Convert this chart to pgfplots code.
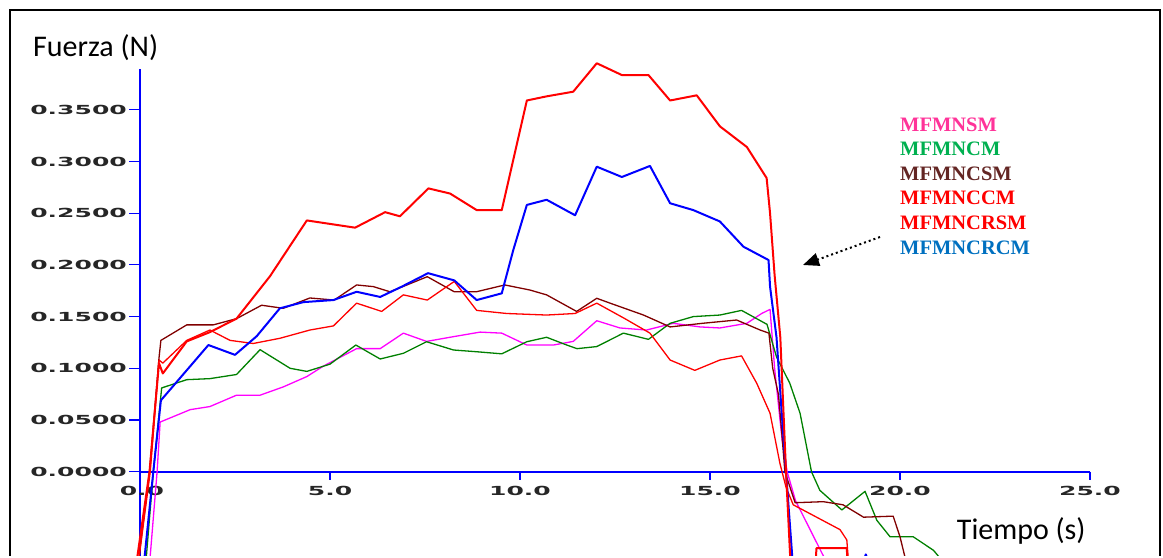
\documentclass[border=0pt]{standalone}
\usepackage{fontspec}
\setmainfont{Carlito}
\newfontfamily\tickfont{DejaVu Sans}
\newfontfamily\legfont{Liberation Serif}
\usepackage{graphicx}
\usepackage{pgfplots}
\pgfplotsset{compat=1.18}
\usetikzlibrary{arrows.meta}

\definecolor{axblue}{HTML}{0000FF}
\definecolor{cmag}{HTML}{FF00FF}
\definecolor{cgreen}{HTML}{008000}
\definecolor{cbrown}{HTML}{800000}
\definecolor{cred}{HTML}{FF0000}
\definecolor{cblue}{HTML}{0000FF}
\definecolor{lpink}{HTML}{FF3399}
\definecolor{lgreen}{HTML}{00B050}
\definecolor{lbrown}{HTML}{632523}
\definecolor{lred}{HTML}{FF0000}
\definecolor{lblue}{HTML}{0070C0}

% wide bitmap-style tick labels
\newcommand\tl[1]{\scalebox{2.0}[1]{\fontsize{12.5}{14}\selectfont\tickfont\bfseries #1}}

\begin{document}
\begin{tikzpicture}
\begin{axis}[
  at={(0pt,0pt)}, anchor=south west,
  scale only axis, width=1163pt, height=556pt,
  xmin=-3.6842, xmax=26.9211,
  ymin=-0.08153, ymax=0.45619,
  hide axis, clip=true,
  lnthin/.style={line width=1.3pt, line join=round},
  lnthick/.style={line width=2pt, line join=round},
]

% axis lines
\draw[axblue, line width=1.8pt] (axis cs:0,0) -- (axis cs:25,0);
\draw[axblue, line width=2.8pt] (axis cs:0,-0.08153) -- (axis cs:0,0.3895);

% y ticks
\draw[axblue, line width=1.2pt] (axis cs:0,0)    -- ++(-11pt,0pt);
\draw[axblue, line width=1.2pt] (axis cs:0,0.05) -- ++(-11pt,0pt);
\draw[axblue, line width=1.2pt] (axis cs:0,0.10) -- ++(-11pt,0pt);
\draw[axblue, line width=1.2pt] (axis cs:0,0.15) -- ++(-11pt,0pt);
\draw[axblue, line width=1.2pt] (axis cs:0,0.20) -- ++(-11pt,0pt);
\draw[axblue, line width=1.2pt] (axis cs:0,0.25) -- ++(-11pt,0pt);
\draw[axblue, line width=1.2pt] (axis cs:0,0.30) -- ++(-11pt,0pt);
\draw[axblue, line width=1.2pt] (axis cs:0,0.35) -- ++(-11pt,0pt);
% x ticks
\draw[axblue, line width=1.5pt] (axis cs:0,0)  -- ++(0pt,-8pt);
\draw[axblue, line width=1.5pt] (axis cs:5,0)  -- ++(0pt,-8pt);
\draw[axblue, line width=1.5pt] (axis cs:10,0) -- ++(0pt,-8pt);
\draw[axblue, line width=1.5pt] (axis cs:15,0) -- ++(0pt,-8pt);
\draw[axblue, line width=1.5pt] (axis cs:20,0) -- ++(0pt,-8pt);
\draw[axblue, line width=1.5pt] (axis cs:25,0) -- ++(0pt,-8pt);

% tick labels
\node[anchor=east, inner sep=0pt, text=black!85] at (axis cs:-0.342,0)    {\tl{0.0000}};
\node[anchor=east, inner sep=0pt, text=black!85] at (axis cs:-0.342,0.05) {\tl{0.0500}};
\node[anchor=east, inner sep=0pt, text=black!85] at (axis cs:-0.342,0.10) {\tl{0.1000}};
\node[anchor=east, inner sep=0pt, text=black!85] at (axis cs:-0.342,0.15) {\tl{0.1500}};
\node[anchor=east, inner sep=0pt, text=black!85] at (axis cs:-0.342,0.20) {\tl{0.2000}};
\node[anchor=east, inner sep=0pt, text=black!85] at (axis cs:-0.342,0.25) {\tl{0.2500}};
\node[anchor=east, inner sep=0pt, text=black!85] at (axis cs:-0.342,0.30) {\tl{0.3000}};
\node[anchor=east, inner sep=0pt, text=black!85] at (axis cs:-0.342,0.35) {\tl{0.3500}};
\node[inner sep=0pt, text=black!85] at (axis cs:0.05,-0.019) {\tl{0.0}};
\node[inner sep=0pt, text=black!85] at (axis cs:5,-0.019)    {\tl{5.0}};
\node[inner sep=0pt, text=black!85] at (axis cs:10,-0.019)   {\tl{10.0}};
\node[inner sep=0pt, text=black!85] at (axis cs:15,-0.019)   {\tl{15.0}};
\node[inner sep=0pt, text=black!85] at (axis cs:20,-0.019)   {\tl{20.0}};
\node[inner sep=0pt, text=black!85] at (axis cs:25,-0.019)   {\tl{25.0}};

% MFMNSM
\addplot[cmag, lnthin] coordinates {
(0.25,-0.09)(0.45,0)(0.53,0.048)(1.32,0.060)(1.84,0.063)(2.54,0.074)(3.16,0.074)
(3.77,0.082)(4.39,0.092)(4.82,0.102)(5.7,0.119)(6.32,0.119)(6.93,0.134)(7.54,0.126)
(8.25,0.1306)(8.95,0.135)(9.52,0.134)(10.18,0.1225)(10.88,0.1225)(11.4,0.126)
(12.02,0.146)(12.63,0.139)(13.33,0.137)(14.03,0.1435)(14.74,0.140)(15.26,0.139)
(15.97,0.1435)(16.36,0.153)(16.58,0.157)(16.7,0.10)(16.9,0.03)(17.03,0)
(17.25,-0.028)(18.1,-0.09)
};
% MFMNCM
\addplot[cgreen, lnthin] coordinates {
(0.15,-0.09)(0.35,0)(0.57,0.081)(1.23,0.089)(1.84,0.090)(2.54,0.094)(3.16,0.118)
(3.95,0.100)(4.39,0.097)(5.0,0.104)(5.68,0.1225)(6.32,0.109)(6.93,0.1145)(7.54,0.1257)
(8.25,0.1177)(8.86,0.116)(9.52,0.114)(10.18,0.1257)(10.7,0.130)(11.23,0.1225)
(11.5,0.119)(12.02,0.121)(12.72,0.134)(13.38,0.128)(13.95,0.1435)(14.56,0.150)
(15.26,0.1515)(15.83,0.156)(16.5,0.1425)(16.75,0.111)(17.1,0.0855)(17.37,0.0565)
(17.67,0.0)(17.89,-0.018)(18.47,-0.037)(19.08,-0.019)(19.39,-0.047)(19.74,-0.063)
(20.35,-0.063)(20.88,-0.076)(21.2,-0.09)
};
% MFMNCSM
\addplot[cbrown, lnthin] coordinates {
(-0.05,-0.09)(0.25,0)(0.5,0.11)(0.55,0.127)(1.23,0.142)(1.93,0.142)(2.54,0.148)
(3.2,0.161)(3.77,0.158)(4.47,0.168)(5.11,0.166)(5.7,0.1806)(6.14,0.179)(6.58,0.174)
(7.56,0.1886)(8.27,0.174)(8.85,0.174)(9.6,0.1806)(10.26,0.1757)(10.7,0.171)
(11.49,0.155)(12.02,0.1677)(12.37,0.163)(13.25,0.1515)(13.95,0.140)(14.8,0.1435)
(15.7,0.1467)(16.32,0.137)(16.55,0.134)(16.65,0.10)(16.8,0.075)(16.89,0.037)
(16.97,0)(17.24,-0.03)(17.98,-0.029)(18.5,-0.032)(19.04,-0.044)(19.82,-0.043)
(20.0,-0.063)(20.18,-0.09)
};
% MFMNCRSM
\addplot[cred, lnthin] coordinates {
(-0.05,-0.09)(0.27,0)(0.5,0.108)(0.6,0.105)(1.23,0.127)(1.84,0.137)(2.37,0.127)
(2.98,0.124)(3.68,0.129)(4.47,0.137)(5.09,0.141)(5.7,0.163)(6.36,0.155)(6.93,0.171)
(7.56,0.166)(8.27,0.184)(8.86,0.156)(9.65,0.153)(10.7,0.1515)(11.45,0.153)
(12.02,0.163)(12.76,0.148)(13.42,0.134)(13.95,0.108)(14.6,0.098)(15.26,0.108)
(15.83,0.112)(16.23,0.0855)(16.58,0.0565)(16.84,0.008)(17.0,-0.015)(17.19,-0.032)
(18.42,-0.056)(18.6,-0.066)(18.65,-0.09)
};
% MFMNCRCM
\addplot[cblue, lnthick] coordinates {
(0.1,-0.09)(0.35,0)(0.55,0.069)(1.8,0.1225)(2.5,0.113)(3.07,0.131)(3.68,0.158)
(4.3,0.164)(5.09,0.166)(5.7,0.174)(6.32,0.169)(6.89,0.179)(7.58,0.192)(8.27,0.185)
(8.86,0.166)(9.52,0.1725)(9.82,0.214)(10.18,0.258)(10.7,0.263)(11.45,0.248)
(12.02,0.295)(12.68,0.285)(13.42,0.2957)(13.95,0.2596)(14.56,0.253)(15.26,0.242)
(15.88,0.2176)(16.54,0.2047)(16.58,0.179)(16.75,0.13)(16.9,0.05)(17.0,0)
(17.1,-0.05)(17.2,-0.1)(18.9,-0.1)(19.1,-0.08)(19.3,-0.1)
};
% MFMNCCM
\addplot[cred, lnthick] coordinates {
(-0.1,-0.09)(0.25,0)(0.5,0.105)(0.6,0.095)(1.23,0.126)(1.84,0.135)(2.54,0.148)
(3.42,0.189)(4.39,0.243)(5.66,0.236)(6.45,0.251)(6.84,0.247)(7.59,0.274)(8.16,0.269)
(8.86,0.253)(9.52,0.253)(10.18,0.359)(10.7,0.363)(11.4,0.3675)(12.02,0.395)
(12.68,0.3836)(13.38,0.3836)(13.95,0.359)(14.65,0.364)(15.26,0.334)(15.97,0.314)
(16.49,0.284)(16.58,0.25)(16.7,0.19)(16.85,0.13)(17.0,0.0)(17.12,-0.09)
(17.5,-0.15)(17.78,-0.09)(17.8,-0.074)(18.6,-0.074)(18.62,-0.09)(18.8,-0.15)
};
\end{axis}

% page extent
\path (0pt,0pt) rectangle (1163pt,556pt);

% frame
\draw[line width=2.5pt] (10pt,0pt) -- (10pt,546pt) -- (1160pt,546pt) -- (1160pt,0pt);

% axis titles
\node[anchor=base west, inner sep=0pt] at (33pt,499.3pt) {\fontsize{30}{36}\selectfont Fuerza (N)};
\node[anchor=base west, inner sep=0pt] at (956.7pt,16.7pt) {\fontsize{30}{36}\selectfont Tiempo (s)};

% series names
\node[anchor=base west, inner sep=0pt, text=lpink]  at (900pt,424.3pt) {\fontsize{20.5}{24}\selectfont\legfont\bfseries MFMNSM};
\node[anchor=base west, inner sep=0pt, text=lgreen] at (900pt,400.3pt) {\fontsize{20.5}{24}\selectfont\legfont\bfseries MFMNCM};
\node[anchor=base west, inner sep=0pt, text=lbrown] at (900pt,375pt)   {\fontsize{20.5}{24}\selectfont\legfont\bfseries MFMNCSM};
\node[anchor=base west, inner sep=0pt, text=lred]   at (900pt,351pt)   {\fontsize{20.5}{24}\selectfont\legfont\bfseries MFMNCCM};
\node[anchor=base west, inner sep=0pt, text=lred]   at (900pt,326pt)   {\fontsize{20.5}{24}\selectfont\legfont\bfseries MFMNCRSM};
\node[anchor=base west, inner sep=0pt, text=lblue]  at (900pt,301pt)   {\fontsize{20.5}{24}\selectfont\legfont\bfseries MFMNCRCM};

% pointer
\draw[line width=2pt, dash pattern=on 2pt off 3pt, -{Triangle[length=16pt,width=13pt]}] (880pt,319pt) -- (803pt,291pt);
\end{tikzpicture}
\end{document}
